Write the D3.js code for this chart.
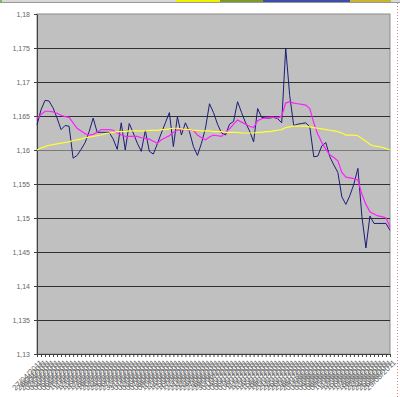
<!DOCTYPE html>
<html>
<head>
<meta charset="utf-8">
<script src="https://cdn.jsdelivr.net/npm/d3@7"></script>
<style>
  body { margin: 0; background: #fff; }
  svg { display: block; font-family: "Liberation Sans", Arial, sans-serif; }
</style>
</head>
<body>
<div id="chart"></div>
<script>
// categories (daily quotes)
var dates = [
  "27/04/2011","28/04/2011","29/04/2011","02/05/2011","03/05/2011","04/05/2011","05/05/2011","06/05/2011",
  "09/05/2011","10/05/2011","11/05/2011","12/05/2011","13/05/2011","16/05/2011","17/05/2011","18/05/2011",
  "19/05/2011","20/05/2011","23/05/2011","24/05/2011","25/05/2011","26/05/2011","27/05/2011","30/05/2011",
  "31/05/2011","01/06/2011","02/06/2011","03/06/2011","06/06/2011","07/06/2011","08/06/2011","09/06/2011",
  "10/06/2011","13/06/2011","14/06/2011","15/06/2011","16/06/2011","17/06/2011","20/06/2011","21/06/2011",
  "22/06/2011","23/06/2011","24/06/2011","27/06/2011","28/06/2011","29/06/2011","30/06/2011","01/07/2011",
  "04/07/2011","05/07/2011","06/07/2011","07/07/2011","08/07/2011","11/07/2011","12/07/2011","13/07/2011",
  "14/07/2011","15/07/2011","18/07/2011","19/07/2011","20/07/2011","21/07/2011","22/07/2011","25/07/2011",
  "26/07/2011","27/07/2011","28/07/2011","29/07/2011","01/08/2011","02/08/2011","03/08/2011","04/08/2011",
  "05/08/2011","08/08/2011","09/08/2011","10/08/2011","11/08/2011","12/08/2011","15/08/2011","16/08/2011",
  "17/08/2011","18/08/2011","19/08/2011","22/08/2011","23/08/2011","24/08/2011","25/08/2011","26/08/2011",
  "29/08/2011"
];

// quote (navy)
var price = [
  1.1637,1.1659,1.1673,1.1672,1.1662,1.1647,1.1630,1.1636,1.1635,1.1588,
  1.1592,1.1601,1.1611,1.1627,1.1647,1.1626,1.1626,1.1626,1.1626,1.1616,
  1.1601,1.1640,1.1600,1.1639,1.1625,1.1610,1.1598,1.1629,1.1598,1.1594,
  1.1609,1.1625,1.1640,1.1655,1.1605,1.1649,1.1622,1.1640,1.1627,1.1605,
  1.1592,1.1610,1.1632,1.1668,1.1655,1.1638,1.1625,1.1622,1.1638,1.1642,
  1.1671,1.1655,1.1640,1.1628,1.1612,1.1661,1.1648,1.1647,1.1647,1.1648,
  1.1646,1.1640,1.1750,1.1680,1.1636,1.1638,1.1639,1.1640,1.1634,1.1590,
  1.1591,1.1606,1.1611,1.1590,1.1578,1.1567,1.1531,1.1520,1.1533,1.1550,
  1.1573,1.1502,1.1456,1.1503,1.1492,1.1492,1.1492,1.1492,1.1482
];

// short average (magenta)
var avgShort = [
  1.1646,1.1652,1.1657,1.1657,1.1656,1.1654,1.1651,1.1649,1.1648,1.1640,
  1.1632,1.1628,1.1624,1.1622,1.1623,1.1626,1.1630,1.1630,1.1630,1.1629,
  1.1625,1.1622,1.1620,1.1620,1.1620,1.1620,1.1618,1.1617,1.1616,1.1613,
  1.1610,1.1615,1.1618,1.1621,1.1626,1.1629,1.1630,1.1630,1.1629,1.1629,
  1.1622,1.1618,1.1615,1.1619,1.1622,1.1621,1.1620,1.1626,1.1631,1.1638,
  1.1644,1.1641,1.1638,1.1635,1.1633,1.1643,1.1646,1.1647,1.1648,1.1648,
  1.1647,1.1650,1.1669,1.1671,1.1669,1.1668,1.1667,1.1666,1.1661,1.1640,
  1.1623,1.1611,1.1601,1.1593,1.1589,1.1584,1.1567,1.1560,1.1559,1.1558,
  1.1556,1.1535,1.1520,1.1509,1.1506,1.1503,1.1502,1.1500,1.1487
];

// long average (yellow)
var avgLong = [
  1.1600,1.1603,1.1605,1.1607,1.1608,1.1609,1.1610,1.1611,1.1612,1.1614,
  1.1615,1.1616,1.1618,1.1619,1.1620,1.1621,1.1622,1.1624,1.1625,1.1626,
  1.1627,1.1627,1.1627,1.1628,1.1628,1.1628,1.1628,1.1628,1.1629,1.1629,
  1.1629,1.1630,1.1630,1.1631,1.1632,1.1632,1.1631,1.1630,1.1630,1.1629,
  1.1629,1.1628,1.1628,1.1628,1.1627,1.1627,1.1627,1.1626,1.1626,1.1626,
  1.1626,1.1625,1.1625,1.1625,1.1625,1.1626,1.1626,1.1627,1.1627,1.1628,
  1.1629,1.1630,1.1633,1.1634,1.1635,1.1635,1.1635,1.1635,1.1634,1.1633,
  1.1632,1.1631,1.1630,1.1629,1.1628,1.1627,1.1625,1.1622,1.1622,1.1622,
  1.1621,1.1617,1.1613,1.1608,1.1606,1.1605,1.1604,1.1602,1.1600
];

var yTicks = [1.13, 1.135, 1.14, 1.145, 1.15, 1.155, 1.16, 1.165, 1.17, 1.175, 1.18];

// spreadsheet cells peeking out behind the chart
var topCells = [
  {x0: 0, x1: 2, color: "#7cc242"},
  {x0: 176, x1: 220, color: "#f2f200"},
  {x0: 220, x1: 263, color: "#7f9a2c"},
  {x0: 263, x1: 350, color: "#3d4ea6"},
  {x0: 350, x1: 391, color: "#c9b62c"}
];

function drawChart(sel) {
  var W = 400, H = 397;
  var left = 37, right = 390, top = 14, bottom = 354;

  var svg = d3.select(sel).append("svg")
    .attr("width", W)
    .attr("height", H);

  // top row of sheet cells
  svg.append("rect")
    .attr("x", 0).attr("y", 0).attr("width", W).attr("height", 2)
    .style("fill", "#d8d8d8");
  svg.selectAll("rect.cell").data(topCells).enter().append("rect")
    .attr("class", "cell")
    .attr("x", function(d){ return d.x0; })
    .attr("y", 0)
    .attr("width", function(d){ return d.x1 - d.x0; })
    .attr("height", 2)
    .style("fill", function(d){ return d.color; });
  svg.append("line")
    .attr("x1", 0).attr("x2", W).attr("y1", 2.5).attr("y2", 2.5)
    .style("stroke", "#999").style("stroke-width", 1);
  // dotted cell borders at the right edge
  svg.append("line")
    .attr("x1", 397.5).attr("x2", 397.5).attr("y1", 3).attr("y2", H)
    .style("stroke", "#e08080").style("stroke-dasharray", "1,2");

  var x = d3.scalePoint().domain(dates).range([left, right]);
  var y = d3.scaleLinear().domain([1.13, 1.18]).range([bottom, top]);

  svg.append("rect")
    .attr("x", left).attr("y", top)
    .attr("width", right - left).attr("height", bottom - top)
    .style("fill", "#c0c0c0")
    .style("stroke", "#8c8c8c")
    .style("stroke-width", 1);

  // grid
  svg.append("g").selectAll("line")
    .data(yTicks.filter(function(d){ return d > 1.13 && d < 1.18; }))
    .enter().append("line")
    .attr("x1", left).attr("x2", right)
    .attr("y1", function(d){ return Math.round(y(d)) + 0.5; })
    .attr("y2", function(d){ return Math.round(y(d)) + 0.5; })
    .style("stroke", function(d){ return d === 1.16 ? "#7a7a7a" : "#303030"; })
    .style("stroke-width", 1);

  var fmt = function(d){ return String(d).replace(".", ","); };

  var yAxis = svg.append("g")
    .attr("transform", "translate(" + left + ",0)")
    .call(d3.axisLeft(y).tickValues(yTicks).tickSize(3).tickSizeOuter(0).tickFormat(fmt));
  yAxis.select(".domain").style("stroke", "#404040");
  yAxis.selectAll(".tick line").style("stroke", "#404040");
  yAxis.selectAll("text")
    .attr("x", -7)
    .style("font-size", "7px")
    .style("fill", "#666");

  var xAxis = svg.append("g")
    .attr("transform", "translate(0," + bottom + ")")
    .call(d3.axisBottom(x).tickSize(3).tickSizeOuter(0));
  xAxis.select(".domain").style("stroke", "#404040");
  xAxis.selectAll(".tick line").style("stroke", "#404040");
  xAxis.selectAll("text")
    .attr("text-anchor", "end")
    .attr("transform", "translate(4,7) rotate(-45)")
    .attr("dy", "0.35em")
    .attr("y", 0)
    .attr("x", 0)
    .style("font-size", "8px")
    .style("fill", "#666");

  var line = d3.line()
    .x(function(d, i){ return x(dates[i]); })
    .y(function(d){ return y(d); });

  svg.append("path").datum(price)
    .attr("d", line)
    .style("fill", "none")
    .style("stroke", "#1c1c78")
    .style("stroke-width", 1);
  svg.append("path").datum(avgShort)
    .attr("d", line)
    .style("fill", "none")
    .style("stroke", "#ff1eff")
    .style("stroke-width", 1.2);
  svg.append("path").datum(avgLong)
    .attr("d", line)
    .style("fill", "none")
    .style("stroke", "#ffff33")
    .style("stroke-width", 1.2);
}

drawChart("#chart");
</script>
</body>
</html>
